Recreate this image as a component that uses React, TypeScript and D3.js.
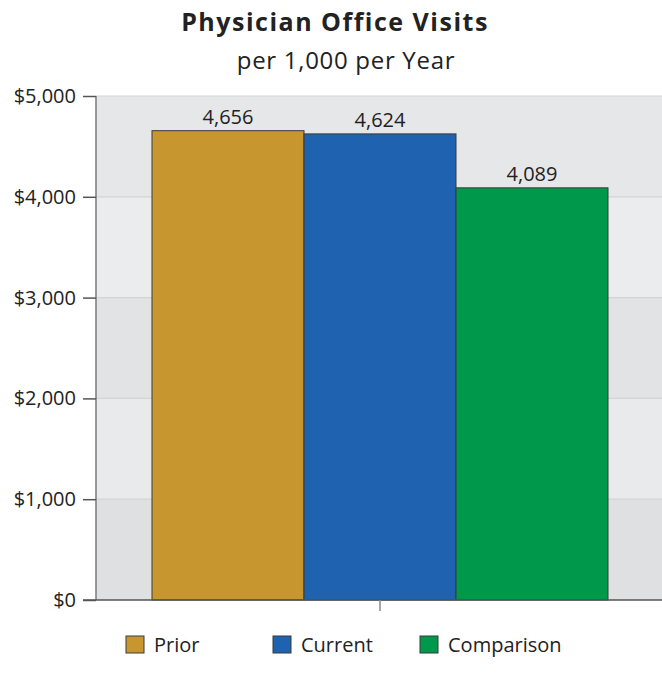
import React, { useEffect, useRef } from "react";
import * as d3 from "d3";

const categories = ["Prior", "Current", "Comparison"];
const values = [4656, 4624, 4089];
const colors = ["#c8962e", "#1f62b0", "#00984a"];
const yTicks = [0, 1000, 2000, 3000, 4000, 5000];
const bandFills = ["#dfe0e2", "#e9eaeb", "#e2e3e5", "#ebeced", "#e6e7e9"];

const FONT = "'Open Sans', 'DejaVu Sans', sans-serif";

export default function App() {
  const svgRef = useRef<SVGSVGElement | null>(null);

  useEffect(() => {
    if (!svgRef.current) return;
    const svg = d3.select(svgRef.current);
    svg.selectAll("*").remove();

    const width = 662;
    const height = 683;
    const margin = { top: 96, right: 0, bottom: 83, left: 96 };
    const chartWidth = width - margin.left - margin.right;
    const chartHeight = height - margin.top - margin.bottom;

    const y = d3.scaleLinear().domain([0, 5000]).range([chartHeight, 0]);
    const x = d3
      .scaleBand()
      .domain(categories)
      .range([56, 56 + 456])
      .paddingInner(0);

    // Title
    svg
      .append("text")
      .attr("x", 335)
      .attr("y", 31)
      .attr("text-anchor", "middle")
      .attr("font-family", FONT)
      .attr("font-size", "25px")
      .attr("font-weight", "bold")
      .attr("letter-spacing", "1.5px")
      .attr("fill", "#222")
      .text("Physician Office Visits");

    svg
      .append("text")
      .attr("x", 346)
      .attr("y", 69)
      .attr("text-anchor", "middle")
      .attr("font-family", FONT)
      .attr("font-size", "24px")
      .attr("letter-spacing", "0.7px")
      .attr("fill", "#222")
      .text("per 1,000 per Year");

    const g = svg
      .append("g")
      .attr("transform", `translate(${margin.left},${margin.top})`);

    // Background bands
    g.selectAll(".band")
      .data(bandFills)
      .enter()
      .append("rect")
      .attr("x", 0)
      .attr("width", chartWidth)
      .attr("y", (_d, i) => y(yTicks[i + 1]))
      .attr("height", (_d, i) => y(yTicks[i]) - y(yTicks[i + 1]))
      .attr("fill", (d) => d);

    // Grid lines
    g.selectAll(".grid")
      .data(yTicks.slice(1))
      .enter()
      .append("line")
      .attr("x1", 0)
      .attr("x2", chartWidth)
      .attr("y1", (d) => y(d))
      .attr("y2", (d) => y(d))
      .attr("stroke", "#d2d3d5")
      .attr("stroke-width", 1.2);

    // Bars
    g.selectAll(".bar")
      .data(values)
      .enter()
      .append("rect")
      .attr("x", (_d, i) => x(categories[i])!)
      .attr("y", (d) => y(d))
      .attr("width", x.bandwidth())
      .attr("height", (d) => chartHeight - y(d))
      .attr("fill", (_d, i) => colors[i])
      .attr("stroke", "#3a3a3a")
      .attr("stroke-width", 1);

    // Value labels
    g.selectAll(".label")
      .data(values)
      .enter()
      .append("text")
      .attr("x", (_d, i) => x(categories[i])! + x.bandwidth() / 2)
      .attr("y", (d) => y(d) - 7)
      .attr("text-anchor", "middle")
      .attr("font-family", FONT)
      .attr("font-size", "20px")
      .attr("fill", "#222")
      .text((d) => d3.format(",")(d));

    // Y axis
    const yAxis = g
      .append("g")
      .call(
        d3
          .axisLeft(y)
          .tickValues(yTicks)
          .tickSize(13)
          .tickPadding(7)
          .tickFormat((d) => "$" + d3.format(",")(d as number))
      );
    yAxis.select(".domain").attr("stroke", "#7a7a7a").attr("stroke-width", 1.5)
      .attr("d", `M0,0V${chartHeight}`);
    yAxis.selectAll(".tick line").attr("stroke", "#555").attr("stroke-width", 1.5);
    yAxis
      .selectAll(".tick text")
      .attr("font-family", FONT)
      .attr("font-size", "20px")
      .attr("fill", "#222");

    // X axis baseline and center tick
    g.append("line")
      .attr("x1", -13)
      .attr("x2", chartWidth)
      .attr("y1", chartHeight)
      .attr("y2", chartHeight)
      .attr("stroke", "#555")
      .attr("stroke-width", 1.5);

    g.append("line")
      .attr("x1", 284)
      .attr("x2", 284)
      .attr("y1", chartHeight)
      .attr("y2", chartHeight + 11)
      .attr("stroke", "#888")
      .attr("stroke-width", 1.5);

    // Legend
    const legendX = [126, 273, 420];
    const legend = svg
      .selectAll(".legend")
      .data(categories)
      .enter()
      .append("g")
      .attr("transform", (_d, i) => `translate(${legendX[i]},636)`);

    legend
      .append("rect")
      .attr("width", 18)
      .attr("height", 17)
      .attr("fill", (_d, i) => colors[i])
      .attr("stroke", "#3a3a3a")
      .attr("stroke-width", 1);

    legend
      .append("text")
      .attr("x", 28)
      .attr("y", 16)
      .attr("font-family", FONT)
      .attr("font-size", "20px")
      .attr("fill", "#222")
      .text((d) => d);
  }, []);

  return (
    <svg
      ref={svgRef}
      width={662}
      height={683}
      style={{ position: "absolute", left: 0, top: 0, background: "#fff" }}
    />
  );
}
